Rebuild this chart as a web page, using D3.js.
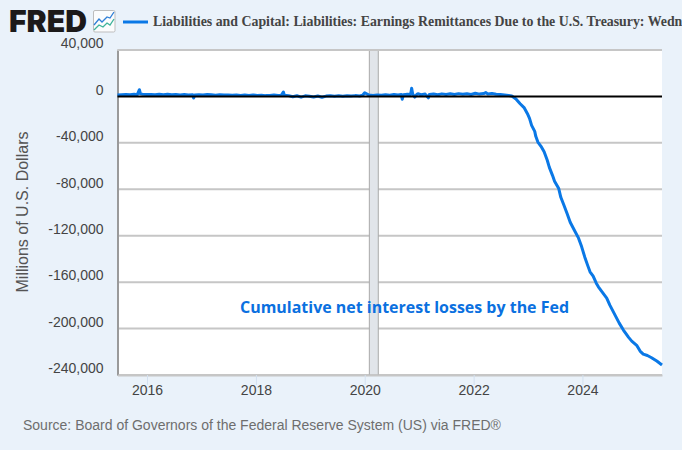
<!DOCTYPE html>
<html>
<head>
<meta charset="utf-8">
<script src="https://cdn.jsdelivr.net/npm/d3@7"></script>
<style>
  html, body { margin: 0; padding: 0; background: #eaf2fa; overflow: hidden; }
  svg { display: block; }
</style>
</head>
<body>
<div id="wrapper"></div>
<script>
// Weekly level (millions of dollars)
const dates = [
  "2015-06-17","2015-07-15","2015-08-12","2015-09-09","2015-10-07","2015-10-28","2015-11-11","2015-11-18","2015-12-02","2015-12-30",
  "2016-01-27","2016-02-24","2016-03-23","2016-04-20","2016-05-18","2016-06-15","2016-07-13","2016-08-10","2016-09-07","2016-10-05",
  "2016-11-02","2016-11-09","2016-11-16","2016-12-14","2017-01-11","2017-02-08","2017-03-08","2017-04-05","2017-05-03","2017-05-31",
  "2017-06-28","2017-07-26","2017-08-23","2017-09-20","2017-10-18","2017-11-15","2017-12-13","2018-01-10","2018-02-07","2018-03-07",
  "2018-04-04","2018-05-02","2018-05-30","2018-06-20","2018-07-04","2018-07-11","2018-08-08","2018-09-05","2018-10-03","2018-10-31",
  "2018-11-28","2018-12-26","2019-01-23","2019-02-20","2019-03-20","2019-04-17","2019-05-15","2019-06-12","2019-07-10","2019-08-07",
  "2019-09-04","2019-10-02","2019-10-30","2019-11-27","2019-12-18","2020-01-01","2020-01-29","2020-02-26","2020-03-25","2020-04-22",
  "2020-05-20","2020-06-17","2020-07-15","2020-08-12","2020-09-02","2020-09-09","2020-09-16","2020-10-14","2020-11-04","2020-11-11",
  "2020-11-18","2020-12-02","2020-12-16","2020-12-23","2021-01-13","2021-02-10","2021-03-03","2021-03-10","2021-04-07","2021-05-05",
  "2021-06-02","2021-06-30","2021-07-28","2021-08-25","2021-09-22","2021-10-20","2021-11-17","2021-12-15","2022-01-12","2022-02-09",
  "2022-03-09","2022-03-23","2022-04-06","2022-05-04","2022-06-01","2022-06-29","2022-07-27","2022-08-24",
  "2022-09-14","2022-10-12","2022-11-09","2022-12-07","2022-12-28","2023-01-11","2023-01-25","2023-02-15","2023-02-22","2023-03-08",
  "2023-03-29","2023-04-19","2023-05-10","2023-05-24","2023-06-14","2023-06-28","2023-07-26","2023-08-09","2023-08-30","2023-09-20",
  "2023-10-11","2023-11-08","2023-12-06","2023-12-27","2024-01-17","2024-02-07","2024-02-21","2024-03-13","2024-04-03","2024-04-17",
  "2024-05-08","2024-06-12","2024-07-03","2024-08-07","2024-09-04","2024-10-02","2024-11-06","2024-11-27","2025-01-01","2025-01-22",
  "2025-02-12","2025-03-12","2025-04-09","2025-05-14","2025-06-18"
];
const remittances = [
  1300,1500,1700,1400,1800,1500,5800,2200,1900,1600,
  1700,1400,1800,1500,1900,1400,1700,1300,1600,1200,
  1500,-1400,1300,1500,1200,1600,1400,1100,1500,1200,
  1300,1000,1300,900,1200,800,1200,900,1100,700,
  900,1200,800,900,3800,1100,700,-300,600,-600,
  500,200,-500,400,-700,300,600,200,500,100,
  600,300,700,400,1000,3200,1200,800,1300,1000,
  1500,1100,1600,1300,1700,-2400,1400,1900,1700,7000,
  2100,-600,1800,2300,1500,2000,-1200,1700,2100,1500,
  2200,1700,2300,1600,2400,1800,2300,1700,2700,2000,
  2500,3300,2100,2600,1900,1700,1300,800,
  400,-2150,-6300,-9900,-14900,-18900,-24900,-30100,-34400,-39300,
  -43000,-47700,-55000,-61100,-68000,-73100,-79400,-86900,-93800,-100900,
  -108400,-115300,-122100,-129600,-138500,-146200,-151100,-154800,-160900,-164000,
  -167700,-173700,-179800,-188400,-195300,-201300,-207600,-210800,-214700,-219400,
  -222000,-223200,-225100,-228000,-231400
];
const yTicks = [40000, 0, -40000, -80000, -120000, -160000, -200000, -240000];
const xTickYears = [2016, 2018, 2020, 2022, 2024];
const recessions = [["2020-02-01", "2020-04-01"]];

const titleText = "Liabilities and Capital: Liabilities: Earnings Remittances Due to the U.S. Treasury: Wednesday Level";
const yLabel = "Millions of U.S. Dollars";
const noteText = "Cumulative net interest losses by the Fed";
const sourceText = "Source: Board of Governors of the Federal Reserve System (US) via FRED\u00AE";

const parseDate = d3.utcParse("%Y-%m-%d");
const sansFont = "'Liberation Sans', Arial, sans-serif";

let dimensions = { width: 682, height: 450, left: 117.5, right: 662, top: 50, bottom: 375 };

const svg = d3.select("#wrapper").append("svg")
  .attr("width", dimensions.width)
  .attr("height", dimensions.height);

// scales
const xScale = d3.scaleUtc()
  .domain([parseDate("2015-06-17"), parseDate("2025-06-18")])
  .range([dimensions.left, dimensions.right]);

const yScale = d3.scaleLinear()
  .domain([-240000, 40000])
  .range([dimensions.bottom, dimensions.top]);

// plot background
svg.append("rect")
  .attr("x", dimensions.left)
  .attr("y", dimensions.top)
  .attr("width", dimensions.right - dimensions.left)
  .attr("height", dimensions.bottom - dimensions.top)
  .attr("fill", "#ffffff");

// gridlines
svg.append("g").selectAll("line")
  .data(yTicks.filter(d => d !== 0))
  .join("line")
    .attr("x1", dimensions.left)
    .attr("x2", dimensions.right)
    .attr("y1", d => yScale(d))
    .attr("y2", d => yScale(d))
    .attr("stroke", "#c6c6c6")
    .attr("stroke-width", 2);

// recession band
svg.append("g").selectAll("rect")
  .data(recessions)
  .join("rect")
    .attr("x", d => xScale(parseDate(d[0])))
    .attr("width", d => xScale(parseDate(d[1])) - xScale(parseDate(d[0])))
    .attr("y", dimensions.top)
    .attr("height", dimensions.bottom - dimensions.top)
    .attr("fill", "#e1e5ea")
    .attr("stroke", "#a9a9a9")
    .attr("stroke-width", 1);

// left axis line, labels sit a little above their gridline
const yAxis = svg.append("g")
  .attr("transform", `translate(${dimensions.left},0)`)
  .call(d3.axisLeft(yScale)
    .tickValues(yTicks)
    .tickSize(0)
    .tickPadding(14)
    .tickFormat(d => d3.format(",")(d).replace("\u2212", "-")));
yAxis.select(".domain").attr("stroke", "#9a9a9a").attr("stroke-width", 2);
yAxis.selectAll("text")
  .attr("dy", "-0.16em")
  .attr("font-family", sansFont)
  .attr("font-size", 14)
  .attr("fill", "#444444");

// bottom axis
const xAxis = svg.append("g")
  .attr("transform", `translate(0,${dimensions.bottom})`)
  .call(d3.axisBottom(xScale)
    .tickValues(xTickYears.map(y => new Date(Date.UTC(y, 0, 1))))
    .tickSizeInner(10)
    .tickSizeOuter(0)
    .tickPadding(0)
    .tickFormat(d3.utcFormat("%Y")));
xAxis.select(".domain").attr("stroke", "#c6c6c6").attr("stroke-width", 2);
xAxis.selectAll(".tick line").attr("stroke", "#d3e0ef").attr("stroke-width", 1);
xAxis.selectAll("text")
  .attr("font-family", sansFont)
  .attr("font-size", 14)
  .attr("fill", "#444444");

// top border
svg.append("line")
  .attr("x1", dimensions.left).attr("x2", dimensions.right)
  .attr("y1", dimensions.top).attr("y2", dimensions.top)
  .attr("stroke", "#c6c6c6").attr("stroke-width", 2);

// series
const lineGenerator = d3.line()
  .x((d, i) => xScale(parseDate(dates[i])))
  .y(d => yScale(d));

svg.append("path")
  .attr("d", lineGenerator(remittances))
  .attr("fill", "none")
  .attr("stroke", "#0a78e6")
  .attr("stroke-width", 3)
  .attr("stroke-linejoin", "round");

// zero line goes over the series
svg.append("line")
  .attr("x1", dimensions.left).attr("x2", dimensions.right)
  .attr("y1", yScale(0)).attr("y2", yScale(0))
  .attr("stroke", "#000000").attr("stroke-width", 2);

// annotation
svg.append("text")
  .attr("x", 240)
  .attr("y", 313)
  .attr("font-family", "'Open Sans', sans-serif")
  .attr("font-weight", 700)
  .attr("font-size", 16)
  .attr("textLength", 329)
  .attr("lengthAdjust", "spacingAndGlyphs")
  .attr("fill", "#0a70e0")
  .text(noteText);

// y label
svg.append("text")
  .attr("transform", "translate(28,212) rotate(-90)")
  .attr("text-anchor", "middle")
  .attr("font-family", sansFont)
  .attr("font-size", 16)
  .attr("fill", "#555555")
  .text(yLabel);

// source
svg.append("text")
  .attr("x", 23)
  .attr("y", 430)
  .attr("font-family", sansFont)
  .attr("font-size", 14)
  .attr("fill", "#6e6e6e")
  .text(sourceText);

// FRED header
svg.append("text")
  .attr("x", 9)
  .attr("y", 32)
  .attr("font-family", "Inter, sans-serif")
  .attr("font-weight", 900)
  .attr("font-size", 30)
  .attr("textLength", 78)
  .attr("lengthAdjust", "spacingAndGlyphs")
  .attr("fill", "#1c1a1a")
  .text("FRED");

const icon = svg.append("g").attr("transform", "translate(93,10)");
icon.append("rect")
  .attr("x", 0.5).attr("y", 0.5).attr("width", 21.5).attr("height", 21.5).attr("rx", 1.5)
  .attr("fill", "#fbfcfd").attr("stroke", "#bdbdbd");
icon.append("path")
  .attr("d", "M1,15 L6,9 L9,12 L14,7 L17,8 L21,2")
  .attr("fill", "none").attr("stroke", "#2f7fd6").attr("stroke-width", 1.3);
icon.append("path")
  .attr("d", "M1,20 L6,15 L10,17 L14,13 L17,15 L21,9")
  .attr("fill", "none").attr("stroke", "#3fb39a").attr("stroke-width", 1.3);

// legend
svg.append("line")
  .attr("x1", 123).attr("x2", 148)
  .attr("y1", 22).attr("y2", 22)
  .attr("stroke", "#0a78e6").attr("stroke-width", 3);

svg.append("text")
  .attr("x", 153)
  .attr("y", 26)
  .attr("font-family", "'Liberation Serif', 'Times New Roman', serif")
  .attr("font-weight", 700)
  .attr("font-size", 13.85)
  .attr("fill", "#444444")
  .text(titleText);
</script>
</body>
</html>
